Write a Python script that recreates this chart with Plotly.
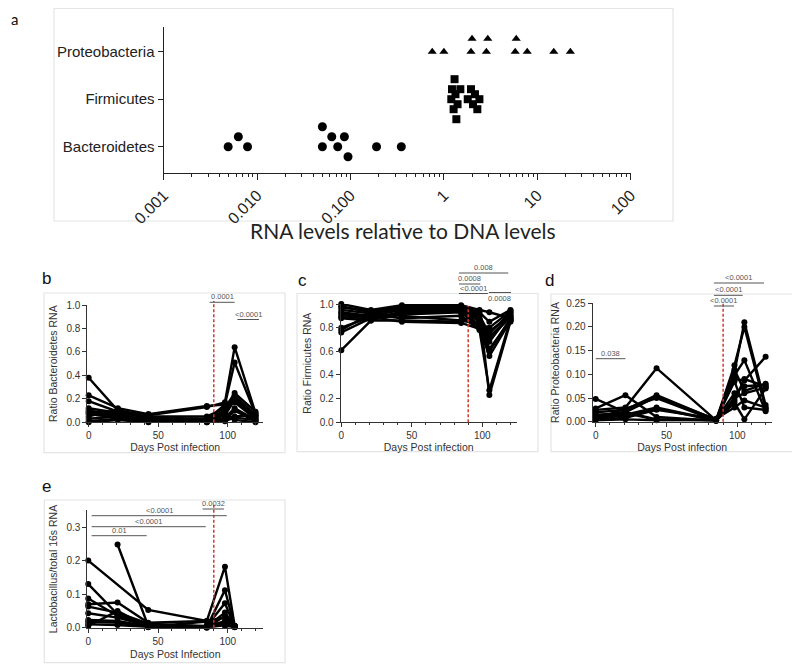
import math
import plotly.graph_objects as go

# page is rendered with the browser's default 8px body margin
PAGE_OFF = 8
W, H = 800 - PAGE_OFF, 668 - PAGE_OFF

# ---------------- data ----------------
categories = ["Bacteroidetes", "Firmicutes", "Proteobacteria"]
bacteroidetes_ratio = [0.0049, 0.0063, 0.0079, 0.050, 0.050, 0.063, 0.073, 0.086, 0.094, 0.19, 0.35]
firmicutes_ratio = [1.20, 1.22, 1.27, 1.30, 1.33, 1.36, 1.40, 1.50, 1.80, 1.95, 2.05, 2.15, 2.28, 2.40]
proteobacteria_ratio = [0.75, 1.0, 1.95, 2.0, 2.85, 2.95, 5.8, 5.95, 7.8, 15.0, 22.6]
a_tickvals = [0.001, 0.01, 0.1, 1, 10, 100]
a_ticktext = ["0.001", "0.010", "0.100", "1", "10", "100"]
a_title = "RNA levels relative to DNA levels"

days = [0, 21, 43, 85, 98, 105, 120]
bacteroidetes_rna = [
    [0.38, 0.10, 0.06, 0.13, 0.17, 0.64, 0.08],
    [0.23, 0.12, 0.07, 0.14, 0.15, 0.51, 0.07],
    [0.18, 0.09, 0.05, 0.05, 0.12, 0.25, 0.09],
    [0.12, 0.08, 0.04, 0.03, 0.10, 0.23, 0.06],
    [0.10, 0.07, 0.02, 0.02, 0.08, 0.21, 0.05],
    [0.09, 0.06, 0.01, 0.01, 0.06, 0.19, 0.04],
    [0.08, 0.05, 0.01, 0.02, 0.15, 0.17, 0.03],
    [0.07, 0.04, 0.005, 0.0, 0.04, 0.12, 0.02],
    [0.05, 0.11, 0.03, 0.01, 0.02, 0.10, 0.01],
    [0.03, 0.05, 0.02, 0.0, 0.03, 0.05, 0.06],
    [0.01, 0.03, 0.01, 0.01, 0.01, 0.04, 0.02],
    [0.0, 0.02, 0.0, 0.005, 0.09, 0.02, 0.0],
]
firmicutes_rna = [
    [1.00, 0.95, 0.99, 0.99, 0.95, 0.93, 0.88],
    [0.98, 0.93, 0.98, 0.98, 0.93, 0.85, 0.95],
    [0.97, 0.94, 0.97, 0.98, 0.90, 0.75, 0.93],
    [0.95, 0.92, 0.96, 0.97, 0.88, 0.72, 0.90],
    [0.93, 0.90, 0.95, 0.96, 0.85, 0.68, 0.92],
    [0.92, 0.88, 0.93, 0.95, 0.82, 0.60, 0.88],
    [0.90, 0.87, 0.91, 0.93, 0.80, 0.56, 0.86],
    [0.89, 0.91, 0.88, 0.90, 0.78, 0.27, 0.87],
    [0.88, 0.86, 0.86, 0.85, 0.94, 0.23, 0.85],
    [0.80, 0.89, 0.85, 0.84, 0.79, 0.77, 0.90],
    [0.78, 0.92, 0.90, 0.86, 0.83, 0.80, 0.94],
    [0.76, 0.88, 0.92, 0.94, 0.87, 0.62, 0.86],
    [0.61, 0.86, 0.94, 0.97, 0.91, 0.71, 0.89],
]
proteobacteria_rna = [
    [0.048, 0.020, 0.005, 0.003, 0.105, 0.210, 0.035],
    [0.028, 0.056, 0.010, 0.002, 0.119, 0.200, 0.028],
    [0.025, 0.030, 0.113, 0.003, 0.098, 0.130, 0.022],
    [0.020, 0.025, 0.056, 0.004, 0.090, 0.087, 0.137],
    [0.012, 0.020, 0.053, 0.005, 0.060, 0.075, 0.078],
    [0.010, 0.015, 0.030, 0.003, 0.050, 0.060, 0.072],
    [0.008, 0.012, 0.028, 0.002, 0.040, 0.005, 0.070],
    [0.005, 0.008, 0.025, 0.006, 0.030, 0.045, 0.030],
    [0.003, 0.005, 0.003, 0.004, 0.085, 0.030, 0.025],
    [0.015, 0.018, 0.004, 0.003, 0.110, 0.065, 0.080],
    [0.006, 0.028, 0.050, 0.002, 0.045, 0.090, 0.075],
]
days_e = [0, 21, 43, 85, 98, 105]
lactobacillus_rna = [
    [0.200, None, 0.053, 0.020, 0.182, 0.005],
    [None, 0.248, 0.005, 0.002, 0.112, 0.004],
    [0.130, 0.040, 0.010, 0.005, 0.073, 0.003],
    [0.087, 0.035, 0.008, 0.004, 0.045, 0.006],
    [0.070, 0.075, 0.015, 0.020, 0.030, 0.004],
    [0.063, 0.045, 0.012, 0.003, 0.020, 0.002],
    [0.043, 0.030, 0.006, 0.002, 0.010, 0.005],
    [0.023, 0.020, 0.004, 0.001, 0.035, 0.003],
    [0.017, 0.015, 0.003, 0.018, 0.005, 0.002],
    [0.010, 0.008, 0.002, 0.001, 0.015, 0.001],
    [0.005, 0.050, 0.001, 0.000, 0.008, 0.004],
]
infection_day = 90

# significance comparisons: (day from, day to, label)
sig_b = [(87, 105, "0.0001"), (107, 122.5, "<0.0001")]
sig_c = [(83.5, 118.4, "0.008"), (83.5, 98.6, "0.0008"), (83.5, 104, "<0.0001"), (104.7, 120.4, "0.0008")]
sig_d = [(83.5, 118.9, "<0.0001"), (83.5, 103.8, "<0.0001"), (83.5, 97.7, "<0.0001"), (0, 21, "0.038")]
sig_e = [(82, 97.3, "0.0032"), (2.4, 99.3, "<0.0001"), (2.4, 84.2, "<0.0001"), (2.4, 41.9, "0.01")]

# ---------------- layout helpers (page pixel -> paper fraction) ----------------
def fx(px):
    return (px - PAGE_OFF) / W

def fy(py):
    return 1 - (py - PAGE_OFF) / H

FONT = "Liberation Sans, Arial, sans-serif"
AX = "#333333"

fig = go.Figure()

# ---- panel a : beeswarm of log values ----
A_PPD = (630.7 - 163.7) / 5.0     # px per decade
A_PPU = 47.5                      # px per category unit
A_TOP, A_BOT = 27.0, 172.7
A_BASE = 146.7                    # pixel row of first category

def swarm(vals, step, dist):
    placed, offs = [], []
    for v in vals:
        xp = math.log10(v) * A_PPD
        cands = [0.0]
        for k in range(1, 8):
            cands += [k * step, -k * step]
        for c in cands:
            if all((xp - a) ** 2 + (c - b) ** 2 >= dist ** 2 for a, b in placed):
                break
        placed.append((xp, c))
        offs.append(c / A_PPU)
    return offs

series_a = [
    (bacteroidetes_ratio, "circle", 9, 10.0, 11.0),
    (firmicutes_ratio, "square", 8, 5.0, 6.0),
    (proteobacteria_ratio, "triangle-up", 8, 6.5, 7.0),
]
for i, (vals, sym, size, step, dist) in enumerate(series_a):
    offs = swarm(vals, step, dist)
    fig.add_trace(go.Scatter(
        x=vals, y=[i + o for o in offs], mode="markers",
        marker=dict(symbol=sym, size=size, color="black", line=dict(width=0)),
        xaxis="x", yaxis="y", cliponaxis=False, showlegend=False, name=categories[i]))

# ---- panels b-e : spaghetti plots ----
def add_lines(data, xs, xa, ya):
    for row in data:
        fig.add_trace(go.Scatter(
            x=xs, y=row, mode="lines+markers", connectgaps=True,
            line=dict(color="black", width=2.4),
            marker=dict(size=6, color="black"),
            xaxis=xa, yaxis=ya, cliponaxis=False, showlegend=False))

add_lines(bacteroidetes_rna, days, "x2", "y2")
add_lines(firmicutes_rna, days, "x3", "y3")
add_lines(proteobacteria_rna, days, "x4", "y4")
add_lines(lactobacillus_rna, days_e, "x5", "y5")

def line_axis(dom, rng, tickvals, title=None, fmt=None, minor=None, standoff=0):
    d = dict(
        domain=dom, range=rng, showline=True, linecolor=AX, linewidth=1,
        ticks="outside", ticklen=4, tickcolor=AX, tickwidth=1, automargin=False,
        showgrid=False, zeroline=False, tickmode="array", tickvals=tickvals,
        tickfont=dict(family=FONT, size=10, color=AX),
    )
    if fmt:
        d["tickformat"] = fmt
    if title:
        d["title"] = dict(text=title, font=dict(family=FONT, size=10.5, color=AX), standoff=standoff)
    if minor:
        d["minor"] = minor
    return d

xminor = dict(tickmode="linear", tick0=0, dtick=10, ticks="outside", ticklen=2, tickcolor=AX)

layout = dict(
    width=W, height=H, margin=dict(l=0, r=0, t=0, b=0, autoexpand=False),
    paper_bgcolor="white", plot_bgcolor="white",
    xaxis=dict(
        domain=[fx(163.7), fx(630.7)], type="log", range=[-3, 2], automargin=False,
        showline=True, linecolor="#222", linewidth=1.3, ticks="outside", ticklen=6,
        tickcolor="#222", tickwidth=1.3, showgrid=False, zeroline=False,
        tickmode="array", tickvals=a_tickvals, ticktext=a_ticktext, tickangle=-45,
        tickfont=dict(family=FONT, size=16, color="#222"),
        minor=dict(tickvals=[m * 10 ** e for e in range(-3, 2) for m in range(2, 10)],
                   ticks="outside", ticklen=3, tickcolor="#222"),
    ),
    yaxis=dict(
        domain=[fy(A_BOT), fy(A_TOP)], automargin=False,
        range=[-(A_BOT - A_BASE) / A_PPU, (A_BASE - A_TOP) / A_PPU],
        showline=True, linecolor="#222", linewidth=1.3, ticks="outside", ticklen=5,
        tickcolor="#222", tickwidth=1.3, showgrid=False, zeroline=False,
        tickmode="array", tickvals=[0, 1, 2], ticktext=categories,
        tickfont=dict(family=FONT, size=15, color="#222"),
    ),
    xaxis2=line_axis([fx(87.3), fx(263)], [-1, 125.4], [0, 50, 100], "Days Post infection", minor=xminor),
    yaxis2=line_axis([fy(422.3), fy(305)], [0, 1], [0, 0.2, 0.4, 0.6, 0.8, 1.0], "Ratio Bacteroidetes RNA", ".1f", standoff=6),
    xaxis3=line_axis([fx(340.7), fx(516.7)], [-0.43, 124.4], [0, 50, 100], "Days Post infection", minor=xminor),
    yaxis3=line_axis([fy(422.3), fy(304)], [0, 1], [0, 0.2, 0.4, 0.6, 0.8, 1.0], "Ratio Firmicutes RNA", ".1f", standoff=6),
    xaxis4=line_axis([fx(592.7), fx(771.7)], [-2.1, 124.3], [0, 50, 100], "Days Post infection", minor=xminor),
    yaxis4=line_axis([fy(421.7), fy(303.3)], [0, 0.25], [0, 0.05, 0.10, 0.15, 0.20, 0.25], "Ratio Proteobacteria RNA", ".2f", standoff=4),
    xaxis5=line_axis([fx(87.3), fx(263.3)], [-0.7, 125.5], [0, 50, 100], "Days Post Infection", minor=xminor, standoff=4),
    yaxis5=line_axis([fy(627.7), fy(510.3)], [0, 0.35], [0, 0.1, 0.2, 0.3], "Lactobacillus/total 16s RNA", ".1f", standoff=6),
)
for k in ["xaxis2", "xaxis3", "xaxis4", "xaxis5"]:
    layout[k]["anchor"] = "y" + k[-1]
for k in ["yaxis2", "yaxis3", "yaxis4", "yaxis5"]:
    layout[k]["anchor"] = "x" + k[-1]
fig.update_layout(**layout)

shapes, annotations = [], []

# panel frames
for (x0, y0, x1, y1) in [(54, 6, 673, 221), (44, 293, 285, 452.7), (297, 293.5, 538, 451.7),
                         (551, 294, 794, 451.7), (44.3, 500, 285, 662.7)]:
    shapes.append(dict(type="rect", xref="paper", yref="paper", x0=fx(x0), x1=fx(x1),
                       y0=fy(y1), y1=fy(max(y0, PAGE_OFF + 0.5)), line=dict(color="#e4e4e4", width=1.2), layer="below"))

# panel a x title (sits across the lower frame edge as in the figure)
annotations.append(dict(xref="paper", yref="paper", x=fx(403), y=fy(230.5), text=a_title,
                        showarrow=False, xanchor="center", yanchor="middle",
                        font=dict(family="Lato, Open Sans, sans-serif", size=21, color="#222")))

# infection day marker (red dashed)
for xa, ybot, ytop in [("x2", 422.3, 301), ("x3", 422.3, 306), ("x4", 421.7, 303), ("x5", 627.7, 503)]:
    shapes.append(dict(type="line", xref=xa, yref="paper", x0=infection_day, x1=infection_day,
                       y0=fy(ybot), y1=fy(ytop), line=dict(color="#d0392b", width=1.5, dash="3px,2px")))

# significance bars: pixel rows for each, text above (1) or below (-1)
sig_rows = [
    ("x2", sig_b, [302.3, 319.5], [1, 1]),
    ("x3", sig_c, [273, 284, 293.5, 292.5], [1, 1, 1, -1]),
    ("x4", sig_d, [283, 295.3, 306, 358.7], [1, 1, 1, 1]),
    ("x5", sig_e, [509, 515.7, 526.7, 535.7], [1, 1, 1, 1]),
]
for xa, sigs, rows, sides in sig_rows:
    for (d0, d1, lab), py, side in zip(sigs, rows, sides):
        shapes.append(dict(type="line", xref=xa, yref="paper", x0=d0, x1=d1, y0=fy(py), y1=fy(py),
                           line=dict(color="#555", width=1)))
        annotations.append(dict(xref=xa, yref="paper", x=(d0 + d1) / 2, y=fy(py), text=lab,
                                showarrow=False, yanchor="bottom" if side > 0 else "top",
                                yshift=-1 if side > 0 else 1,
                                font=dict(family=FONT, size=7.5, color="#555")))

# panel letters
for lab, x, y, fam in [("a", 14, 19, "Lato, sans-serif"), ("b", 46, 278, FONT), ("c", 302, 281, FONT),
                       ("d", 549, 280, FONT), ("e", 46, 487, FONT)]:
    annotations.append(dict(xref="paper", yref="paper", x=fx(x), y=fy(y), text=lab, showarrow=False,
                            xanchor="center", yanchor="middle",
                            font=dict(family=fam, size=15 if lab == "a" else 17, color="#111")))

fig.update_layout(shapes=shapes, annotations=annotations)
fig.write_html("out.html")
